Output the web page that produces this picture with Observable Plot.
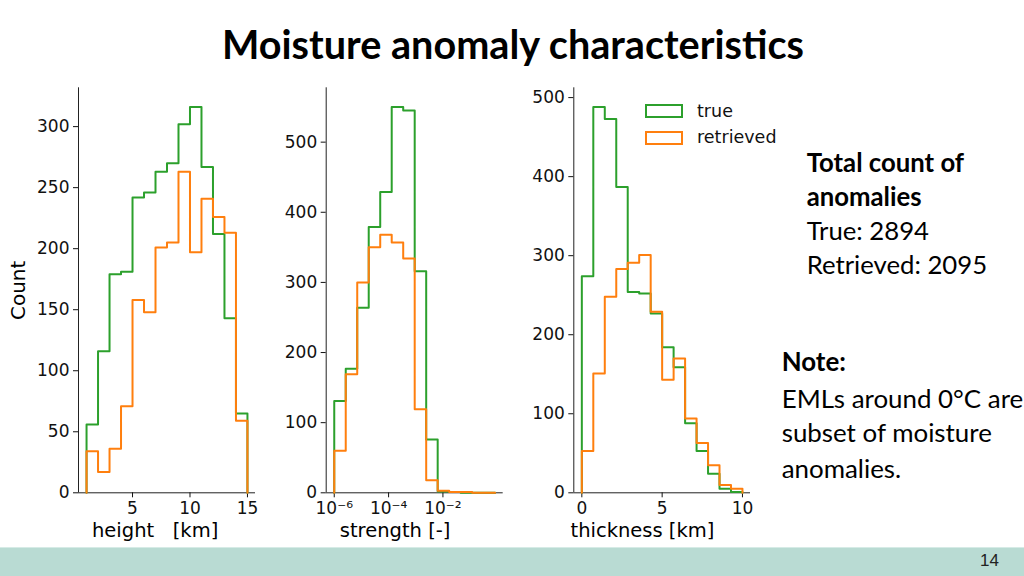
<!DOCTYPE html>
<html><head><meta charset="utf-8">
<script src="https://cdn.jsdelivr.net/npm/d3@7"></script>
<script src="https://cdn.jsdelivr.net/npm/@observablehq/plot@0.6"></script>
<style>
html,body{margin:0;padding:0;background:#fff;}
#page{position:relative;width:1024px;height:576px;overflow:hidden;background:#fff;}
.abs{position:absolute;white-space:pre;margin:0;padding:0;}
</style></head><body><div id="page"></div>
<script>
// ---------- data ----------
const heightEdges = [1, 2, 3, 4, 5, 6, 7, 8, 9, 10, 11, 12, 13, 14, 15];
const heightTrue = [56, 116, 179, 181, 242, 246, 263, 270, 302, 316, 267, 212, 143, 65];
const heightRetrieved = [34, 17, 36, 71, 158, 148, 201, 205, 263, 197, 241, 226, 213, 59];
const heightTicks = [5, 10, 15];
const heightYTicks = [0, 50, 100, 150, 200, 250, 300];

const strengthEdgeExponents = [-6, -5.577, -5.154, -4.731, -4.308, -3.885, -3.462, -3.039, -2.616, -2.193, -1.770, -1.347, -0.924, -0.501, -0.078];
const strengthTrue = [131, 177, 264, 379, 429, 550, 545, 316, 76, 2, 1, 0, 0, 0];
const strengthRetrieved = [60, 169, 300, 350, 368, 357, 334, 119, 18, 3, 1, 1, 0, 0];
const strengthTicks = [1e-6, 1e-4, 1e-2];
const strengthTickLabels = ["10\u207B\u2076", "10\u207B\u2074", "10\u207B\u00B2"];
const strengthYTicks = [0, 100, 200, 300, 400, 500];

const thicknessEdges = [0, 0.714, 1.429, 2.143, 2.857, 3.571, 4.286, 5, 5.714, 6.429, 7.143, 7.857, 8.571, 9.286, 10];
const thicknessTrue = [274, 488, 473, 387, 254, 252, 227, 184, 159, 88, 53, 24, 5, 1];
const thicknessRetrieved = [53, 151, 248, 283, 291, 301, 229, 143, 170, 94, 63, 35, 10, 5];
const thicknessTicks = [0, 5, 10];
const thicknessYTicks = [0, 100, 200, 300, 400, 500];

const seriesNames = ["true", "retrieved"];
const seriesColors = ["#2ca02c", "#ff7f0e"];

const titleText = "Moisture anomaly characteristics";
const totalLines = [["Total count of", true], ["anomalies", true], ["True: 2894", false], ["Retrieved: 2095", false]];
const noteLines = [["Note:", true], ["EMLs around 0\u00B0C are", false], ["subset of moisture", false], ["anomalies.", false]];
const pageNumber = "14";

// ---------- helpers ----------
const page = document.getElementById("page");
function stepPoints(edges, values) {
  const pts = [{x: edges[0], y: 0}];
  values.forEach((v, i) => pts.push({x: edges[i], y: v}));
  pts.push({x: edges[edges.length - 1], y: 0});
  return pts;
}
function place(node, left, top) {
  const d = document.createElement("div");
  d.className = "abs";
  d.style.left = left + "px";
  d.style.top = top + "px";
  d.appendChild(node);
  page.appendChild(d);
  return d;
}
const ctx = document.createElement("canvas").getContext("2d");
function fitSize(text, weight, family, target) {
  ctx.font = `${weight} 100px ${family}`;
  return 100 * target / ctx.measureText(text).width;
}
function addText(text, {x, cy, fs, weight = 400, family = "Lato", capCenter = 0.6285, color = "#000"}) {
  const d = document.createElement("div");
  d.className = "abs";
  d.textContent = text;
  d.style.left = x + "px";
  d.style.top = (cy - capCenter * fs) + "px";
  d.style.fontSize = fs + "px";
  d.style.lineHeight = (1.2 * fs) + "px";
  d.style.fontFamily = family;
  d.style.fontWeight = weight;
  d.style.color = color;
  page.appendChild(d);
  return d;
}
function strengthFormat(d) {
  const i = strengthTicks.findIndex(t => Math.abs(Math.log10(t) - Math.log10(d)) < 1e-6);
  return i >= 0 ? strengthTickLabels[i] : "";
}

const TOP = 87.3, BOTTOM = 492.3, SVGH = 548;

function panel({left, width, frameLeft, frameRight, edges, trueVals, retVals, logX, xTicks, xTickFormat, yTicks, label, labelLeft, count}) {
  const ymax = 1.05 * Math.max(...trueVals, ...retVals);
  let xDomain;
  if (logX) {
    const a = Math.log10(edges[0]), b = Math.log10(edges[edges.length - 1]);
    const m = 0.05 * (b - a);
    xDomain = [10 ** (a - m), 10 ** (b + m)];
  } else {
    const a = edges[0], b = edges[edges.length - 1];
    const m = 0.05 * (b - a);
    xDomain = [a - m, b + m];
  }
  const xAxisOpts = {ticks: xTicks, tickSize: 5, tickPadding: 4, label: null, fontSize: 17};
  if (xTickFormat) xAxisOpts.tickFormat = xTickFormat;
  const marks = [
    Plot.ruleX([xDomain[0]], {stroke: "#222", strokeWidth: 1}),
    Plot.ruleY([0], {stroke: "#222", strokeWidth: 1}),
    Plot.axisY({ticks: yTicks, tickSize: 5, tickPadding: 4, label: null, fontSize: 17}),
    Plot.axisX(xAxisOpts),
    Plot.line(stepPoints(edges, trueVals), {x: "x", y: "y", stroke: seriesColors[0], strokeWidth: 2, curve: "step-after"}),
    Plot.line(stepPoints(edges, retVals), {x: "x", y: "y", stroke: seriesColors[1], strokeWidth: 2, curve: "step-after"}),
    Plot.text([label], {text: d => d, frameAnchor: "bottom-left", textAnchor: "start", dx: labelLeft - (left + frameLeft), dy: 44.5, fontSize: 19.5, fill: "#000"})
  ];
  if (count) marks.push(Plot.text([count], {text: d => d, frameAnchor: "left", textAnchor: "middle", rotate: -90, dx: 18 - (left + frameLeft), fontSize: 20, fill: "#000"}));
  const svg = Plot.plot({
    width, height: SVGH,
    marginLeft: frameLeft, marginRight: width - frameRight, marginTop: TOP, marginBottom: SVGH - BOTTOM,
    x: logX ? {type: "log", domain: xDomain} : {domain: xDomain},
    y: {domain: [0, ymax]},
    style: {background: "transparent", overflow: "visible", fontFamily: "DejaVu Sans", fontSize: "17px", color: "#111"},
    marks
  });
  place(svg, left, 0);
}

panel({left: 0, width: 270, frameLeft: 78, frameRight: 255,
  edges: heightEdges, trueVals: heightTrue, retVals: heightRetrieved,
  xTicks: heightTicks, yTicks: heightYTicks,
  label: "height\u00A0\u00A0\u00A0[km]", labelLeft: 91.5, count: "Count"});

panel({left: 270, width: 245, frameLeft: 325.7 - 270, frameRight: 502.7 - 270,
  edges: strengthEdgeExponents.map(e => 10 ** e), trueVals: strengthTrue, retVals: strengthRetrieved,
  logX: true, xTicks: strengthTicks, xTickFormat: strengthFormat, yTicks: strengthYTicks,
  label: "strength\u00A0[-]", labelLeft: 339.3});

panel({left: 515, width: 255, frameLeft: 573.3 - 515, frameRight: 750 - 515,
  edges: thicknessEdges, trueVals: thicknessTrue, retVals: thicknessRetrieved,
  xTicks: thicknessTicks, yTicks: thicknessYTicks,
  label: "thickness\u00A0[km]", labelLeft: 570});

// legend
[[104, 111], [130.7, 137.3]].forEach(([top, cy], i) => {
  const r = document.createElement("div");
  r.className = "abs";
  r.style.left = "645px"; r.style.top = top + "px";
  r.style.width = "34px"; r.style.height = "10px";
  r.style.border = `2px solid ${seriesColors[i]}`;
  page.appendChild(r);
  addText(seriesNames[i], {x: 697, cy, fs: 17.5, family: "DejaVu Sans", capCenter: 0.581, color: "#111"});
});

// title
const tfs = fitSize(titleText, 700, "Lato", 583);
addText(titleText, {x: 222, cy: 45, fs: tfs, weight: 700});

// right text
const f1 = fitSize("Retrieved: 2095", 400, "Lato", 180.5);
[163, 197, 231, 265].forEach((cy, i) => addText(totalLines[i][0], {x: 806.7, cy, fs: f1, weight: totalLines[i][1] ? 700 : 400}));
const f2 = fitSize("EMLs around 0\u00B0C are", 400, "Lato", 241.7);
[362, 399, 433, 469].forEach((cy, i) => addText(noteLines[i][0], {x: 781.7, cy, fs: f2, weight: noteLines[i][1] ? 700 : 400}));

// bottom bar
const bar = document.createElement("div");
bar.className = "abs";
bar.style.left = "0px"; bar.style.top = "547px"; bar.style.width = "1024px"; bar.style.height = "29px";
bar.style.background = "#b9dbd3"; bar.style.borderTop = "1px solid #d6ebe6";
page.appendChild(bar);
addText(pageNumber, {x: 980, cy: 561.5, fs: 17, family: "Liberation Sans", capCenter: 0.5885, color: "#222"});
</script></body></html>
